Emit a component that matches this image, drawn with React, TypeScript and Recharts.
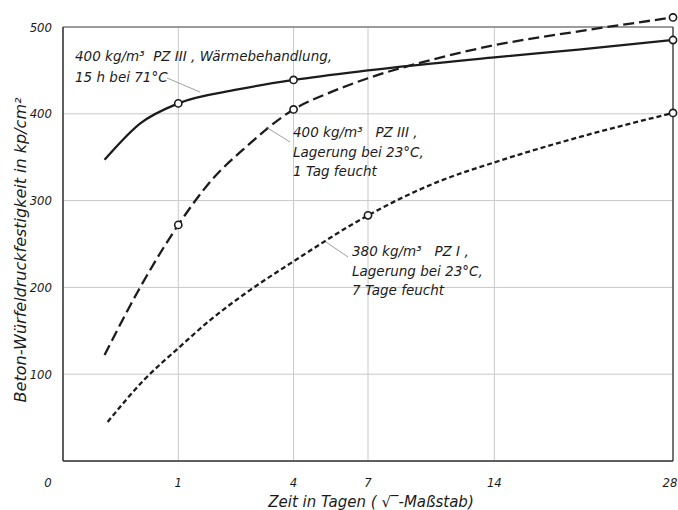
import React from "react";
import {
  LineChart,
  Line,
  XAxis,
  YAxis,
  CartesianGrid,
  ReferenceLine,
} from "recharts";

const TICK_FONT = '"DejaVu Sans Condensed", "DejaVu Sans", sans-serif';
const FONT = '"DejaVu Sans", sans-serif';
const INK = "#1c1c1c";

// x: Tage (√-Maßstab), y: kp/cm²
const xTicks = [0, 1, 4, 7, 14, 28];
const yTicks = [0, 100, 200, 300, 400, 500];

// 400 kg/m³ PZ III, Wärmebehandlung 15 h bei 71 °C
const heatDays = [0.13, 0.45, 1, 2.3, 4, 7, 14, 20, 28];
const heatValues = [347, 389, 412, 428, 439, 450, 465, 474, 485];
const heatMarked = [1, 4, 28];

// 400 kg/m³ PZ III, Lagerung bei 23 °C, 1 Tag feucht
const wet1Days = [0.13, 0.42, 1, 1.67, 2.5, 4, 5.4, 7, 10, 14, 20, 28];
const wet1Values = [122, 195, 272, 324, 361, 405, 425, 441, 461, 479, 495, 511];
const wet1Marked = [1, 4, 28];

// 380 kg/m³ PZ I, Lagerung bei 23 °C, 7 Tage feucht
const wet7Days = [0.15, 0.5, 1, 1.67, 2.5, 4, 7, 10.5, 14, 19.3, 28];
const wet7Values = [45, 94, 130, 164, 193, 230, 283, 321, 344, 370, 401];
const wet7Marked = [7, 28];

const build = (days: number[], values: number[], marked: number[]) =>
  days.map((d, i) => ({ d, v: values[i], marked: marked.includes(d) }));

const heatData = build(heatDays, heatValues, heatMarked);
const wet1Data = build(wet1Days, wet1Values, wet1Marked);
const wet7Data = build(wet7Days, wet7Values, wet7Marked);

const Dot = (props: any) => {
  const { cx, cy, payload, index } = props;
  if (!payload.marked) return <g key={index} />;
  return (
    <circle key={index} cx={cx} cy={cy} r={3.6} fill="#fff" stroke={INK} strokeWidth={1.6} />
  );
};

const XTick = ({ x, y, payload }: any) => (
  <text
    x={payload.value === 0 ? x - 15 : x}
    y={y + 26}
    textAnchor="middle"
    fontFamily={TICK_FONT}
    fontStyle="italic"
    fontSize={13}
    fill={INK}
  >
    {payload.value}
  </text>
);

const YTick = ({ x, y, payload }: any) =>
  payload.value === 0 ? (
    <g />
  ) : (
    <text
      x={x}
      y={y + 4.5}
      textAnchor="end"
      fontFamily={TICK_FONT}
      fontStyle="italic"
      fontSize={13}
      fill={INK}
    >
      {payload.value}
    </text>
  );

const txt = {
  fontFamily: FONT,
  fontStyle: "italic" as const,
  fontSize: 13.5,
  fill: INK,
  style: { whiteSpace: "pre" as const },
};

export default function App() {
  return (
    <div className="chart-root" style={{ position: "relative", width: 678, height: 510 }}>
      <style>{`body{margin:0} .chart-root [clip-path]{clip-path:none !important}`}</style>
      <LineChart
        width={678}
        height={510}
        margin={{ top: 27, right: 5, bottom: 0, left: 0 }}
      >
        <CartesianGrid stroke="#c9c9c9" strokeWidth={1} />
        <XAxis
          dataKey="d"
          type="number"
          scale="sqrt"
          domain={[0, 28]}
          ticks={xTicks}
          allowDataOverflow
          height={49}
          tickSize={0}
          tickMargin={0}
          tick={<XTick />}
          stroke="#333"
          strokeWidth={1.5}
        />
        <YAxis
          dataKey="v"
          type="number"
          domain={[0, 500]}
          ticks={yTicks}
          allowDataOverflow
          width={63}
          tickSize={0}
          tickMargin={11}
          tick={<YTick />}
          stroke="#333"
          strokeWidth={1.5}
        />
        <ReferenceLine y={500} stroke="#555" strokeWidth={1.2} />
        <ReferenceLine x={28} stroke="#444" strokeWidth={1.4} />
        <Line
          data={heatData}
          dataKey="v"
          type="monotone"
          stroke={INK}
          strokeWidth={2.3}
          dot={Dot}
          activeDot={false}
          isAnimationActive={false}
        />
        <Line
          data={wet1Data}
          dataKey="v"
          type="monotone"
          stroke={INK}
          strokeWidth={2.3}
          strokeDasharray="11 5"
          dot={Dot}
          activeDot={false}
          isAnimationActive={false}
        />
        <Line
          data={wet7Data}
          dataKey="v"
          type="monotone"
          stroke={INK}
          strokeWidth={2.3}
          strokeDasharray="5 3"
          dot={Dot}
          activeDot={false}
          isAnimationActive={false}
        />
      </LineChart>
      <svg
        width={678}
        height={510}
        style={{ position: "absolute", left: 0, top: 0, pointerEvents: "none" }}
      >
        <g stroke="#888" strokeWidth={0.8}>
          <line x1={167} y1={78} x2={200} y2={92} />
          <line x1={266} y1={127} x2={290} y2={142} />
          <line x1={326} y1={242} x2={348} y2={257} />
        </g>
        <text {...txt} x={75} y={61}>400 kg/m³  PZ III , Wärmebehandlung,</text>
        <text {...txt} x={75} y={82}>15 h bei 71°C</text>
        <text {...txt} x={293} y={137}>400 kg/m³   PZ III ,</text>
        <text {...txt} x={293} y={157}>Lagerung bei 23°C,</text>
        <text {...txt} x={293} y={176}>1 Tag feucht</text>
        <text {...txt} x={352} y={256}>380 kg/m³   PZ I ,</text>
        <text {...txt} x={352} y={276}>Lagerung bei 23°C,</text>
        <text {...txt} x={352} y={295}>7 Tage feucht</text>
        <text {...txt} fontSize={15} x={371} y={507} textAnchor="middle">
          {"Zeit in Tagen ( √‾-Maßstab)"}
        </text>
        <text
          {...txt}
          fontSize={16}
          x={0}
          y={0}
          textAnchor="middle"
          transform="translate(26 250) rotate(-90)"
        >
          Beton-Würfeldruckfestigkeit in kp/cm²
        </text>
      </svg>
    </div>
  );
}
